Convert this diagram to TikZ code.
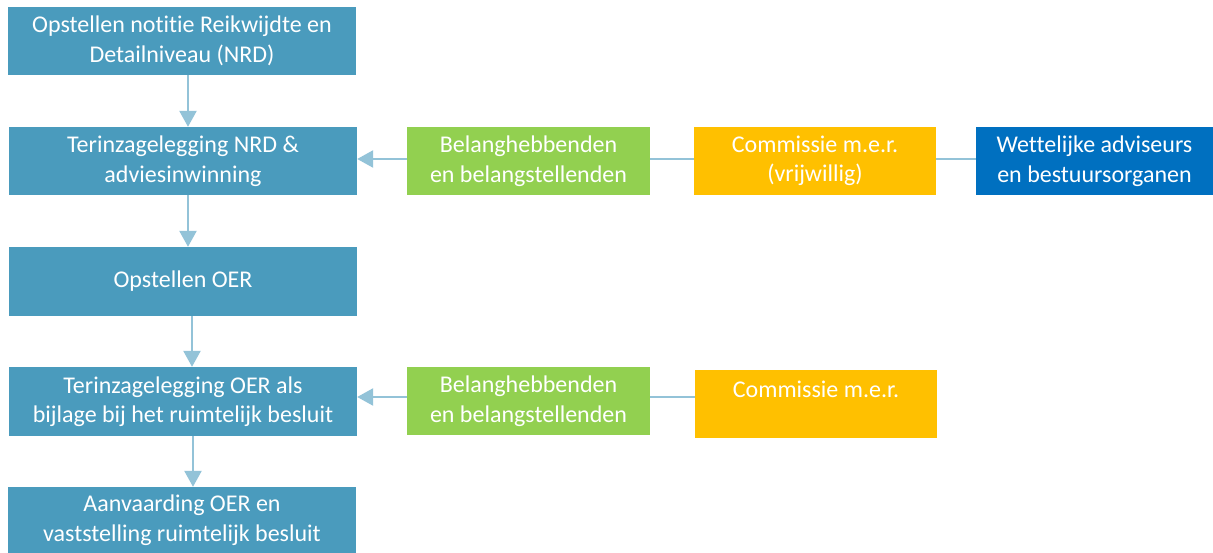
\documentclass[tikz,border=0pt]{standalone}
\usepackage{fontspec}
\setmainfont{Carlito}[Ligatures={NoCommon}]
\usetikzlibrary{arrows.meta}
\definecolor{stepc}{HTML}{4A9BBD}
\definecolor{greenc}{HTML}{92D050}
\definecolor{yellowc}{HTML}{FFC000}
\definecolor{bluec}{HTML}{0070C0}
\definecolor{linec}{HTML}{93C3D8}
\tikzset{
  box/.style={rectangle, inner sep=0pt, text=white, align=center,
    font=\fontsize{24}{29.5}\selectfont},
  stepbox/.style={box, fill=stepc, minimum width=348pt, minimum height=68pt},
  greenbox/.style={box, fill=greenc, minimum width=243pt, minimum height=68pt},
  yellowbox/.style={box, fill=yellowc, minimum width=242pt, minimum height=68pt},
  bluebox/.style={box, fill=bluec, minimum width=237pt, minimum height=68pt},
  arr/.style={draw=linec, line width=2.5pt, -{Triangle[width=17pt,length=16pt]}},
  conn/.style={draw=linec, line width=2.5pt},
}
\begin{document}
\begin{tikzpicture}[x=1pt,y=-1pt]
\useasboundingbox (0,0) rectangle (1213,553);
\node[stepbox] (b1) at (182,41) {Opstellen notitie Reikwijdte en\\Detailniveau (NRD)};
\node[stepbox] (b2) at (183,161) {Terinzagelegging NRD \&\\adviesinwinning};
\node[stepbox, minimum height=69pt] (b3) at (183,281.5) {Opstellen OER};
\node[stepbox, minimum height=69pt] (b4) at (183,401.5) {Terinzagelegging OER als\\bijlage bij het ruimtelijk besluit};
\node[stepbox, minimum height=66pt] (b5) at (182,520) {Aanvaarding OER en\\vaststelling ruimtelijk besluit};
\node[greenbox] (g1) at (528.5,161) {Belanghebbenden\\en belangstellenden};
\node[yellowbox] (y1) at (815,161) {Commissie m.e.r.\\(vrijwillig)};
\node[bluebox] (w1) at (1094.5,161) {Wettelijke adviseurs\\en bestuursorganen};
\node[greenbox] (g2) at (528.5,401) {Belanghebbenden\\en belangstellenden};
\node[yellowbox] (y2) at (816,404) {Commissie m.e.r.\\\mbox{}};
\draw[arr] ([xshift=6pt]b1.south) -- ([xshift=5pt]b2.north);
\draw[arr] ([xshift=5pt]b2.south) -- ([xshift=5pt]b3.north);
\draw[arr] ([xshift=9pt]b3.south) -- ([xshift=9pt]b4.north);
\draw[arr] ([xshift=10pt]b4.south) -- ([xshift=11pt]b5.north);
\draw[arr] ([yshift=2pt]g1.west) -- ([yshift=2pt]g1.west -| b2.east);
\draw[conn] ([yshift=2pt]g1.east) -- ([yshift=2pt]g1.east -| y1.west);
\draw[conn] ([yshift=2pt]y1.east) -- ([yshift=2pt]y1.east -| w1.west);
\draw[arr] ([yshift=4pt]g2.west) -- ([yshift=4pt]g2.west -| b4.east);
\draw[conn] ([yshift=4pt]g2.east) -- ([yshift=4pt]g2.east -| y2.west);
\end{tikzpicture}
\end{document}
